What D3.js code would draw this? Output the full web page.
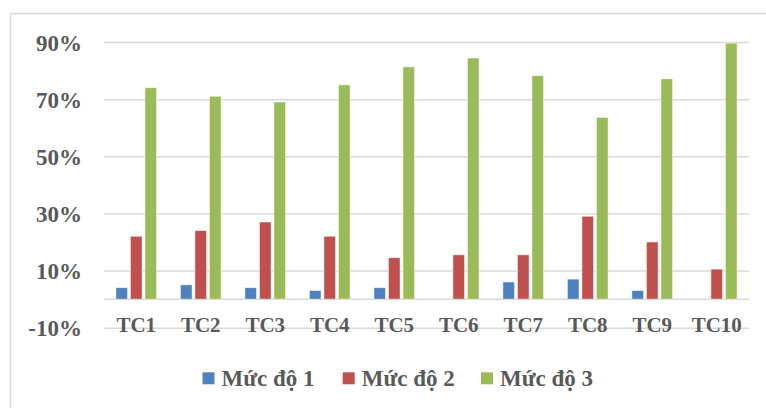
<!DOCTYPE html>
<html>
<head>
<meta charset="utf-8">
<script src="https://cdn.jsdelivr.net/npm/d3@7"></script>
<style>
  body { margin: 0; background: #fff; }
</style>
</head>
<body>
<script>
var w = 766;
var h = 408;
var font = "'Times New Roman', 'Liberation Serif', 'DejaVu Serif', serif";

var categories = ["TC1", "TC2", "TC3", "TC4", "TC5", "TC6", "TC7", "TC8", "TC9", "TC10"];
var seriesNames = ["Mức độ 1", "Mức độ 2", "Mức độ 3"];
var muc1 = [4, 5, 4, 3, 4, 0, 6, 7, 3, 0];
var muc2 = [22, 24, 27, 22, 14.5, 15.5, 15.5, 29, 20, 10.5];
var muc3 = [74, 71, 69, 75, 81.3, 84.4, 78.2, 63.6, 77.1, 89.6];
var yTicks = [-10, 10, 30, 50, 70, 90];
var colors = ["#4f81bd", "#c0504d", "#9bbb59"];

var seriesValues = [muc1, muc2, muc3];

var svg = d3.select("body")
  .append("svg")
  .attr("width", w)
  .attr("height", h)
  .attr("font-family", font)
  .attr("font-weight", "bold");

// outer chart border (runs off the right and bottom edges)
svg.append("rect")
  .attr("x", 10.5)
  .attr("y", 13.5)
  .attr("width", 800)
  .attr("height", 500)
  .attr("fill", "none")
  .attr("stroke", "#d9d9d9")
  .attr("stroke-width", 1.5);

var left = 104, right = 749;

var x0 = d3.scaleBand()
  .domain(categories)
  .range([left, right])
  .paddingInner(0.37)
  .paddingOuter(0.185);

var x1 = d3.scaleBand()
  .domain(seriesNames)
  .range([0, x0.bandwidth()])
  .paddingInner(0.2);

var y = d3.scaleLinear()
  .domain([-10, 90])
  .range([327.7, 42]);

// gridlines + y labels
var yAxis = d3.axisLeft(y)
  .tickValues(yTicks)
  .tickSize(-(right - left))
  .tickFormat(function(d) { return d + "%"; });

var gy = svg.append("g")
  .attr("transform", "translate(" + left + ",0)")
  .call(yAxis)
  .attr("font-family", font)
  .attr("font-size", 23);
gy.select(".domain").remove();
gy.selectAll(".tick line")
  .attr("stroke", "#d9d9d9")
  .attr("stroke-width", 1.5);
gy.selectAll(".tick text")
  .attr("x", -22)
  .attr("dy", "0.35em")
  .attr("fill", "#595959");

// zero line (category axis)
svg.append("line")
  .attr("x1", left)
  .attr("x2", right)
  .attr("y1", y(0))
  .attr("y2", y(0))
  .attr("stroke", "#d9d9d9")
  .attr("stroke-width", 1.5);

// bars
var rows = categories.map(function(c, i) {
  return seriesNames.map(function(s, j) {
    return { cat: c, series: s, idx: j, value: seriesValues[j][i] };
  });
});

svg.selectAll("g.grp")
  .data(rows)
  .enter()
  .append("g")
  .attr("class", "grp")
  .attr("transform", function(d, i) { return "translate(" + x0(categories[i]) + ",0)"; })
  .selectAll("rect")
  .data(function(d) { return d.filter(function(e) { return e.value > 0; }); })
  .enter()
  .append("rect")
  .attr("x", function(d) { return x1(d.series); })
  .attr("y", function(d) { return y(d.value); })
  .attr("width", x1.bandwidth())
  .attr("height", function(d) { return y(0) - y(d.value); })
  .attr("fill", function(d) { return colors[d.idx]; })
  .attr("stroke", "#ffffff")
  .attr("stroke-opacity", 0.6)
  .attr("stroke-width", 0.8);

// category labels
svg.selectAll("text.cat")
  .data(categories)
  .enter()
  .append("text")
  .attr("class", "cat")
  .attr("x", function(d) { return x0(d) + x0.bandwidth() / 2; })
  .attr("y", 331.5)
  .attr("text-anchor", "middle")
  .attr("font-size", 21)
  .attr("fill", "#595959")
  .text(function(d) { return d; });

// legend
var legendX = [202.5, 342.7, 481];
var legend = svg.selectAll("g.leg")
  .data(seriesNames)
  .enter()
  .append("g")
  .attr("class", "leg")
  .attr("transform", function(d, i) { return "translate(" + legendX[i] + ",372.3)"; });

legend.append("rect")
  .attr("width", 12)
  .attr("height", 12)
  .attr("fill", function(d, i) { return colors[i]; });

legend.append("text")
  .attr("x", 19)
  .attr("y", 13.5)
  .attr("font-size", 23)
  .attr("fill", "#595959")
  .text(function(d) { return d; });
</script>
</body>
</html>
